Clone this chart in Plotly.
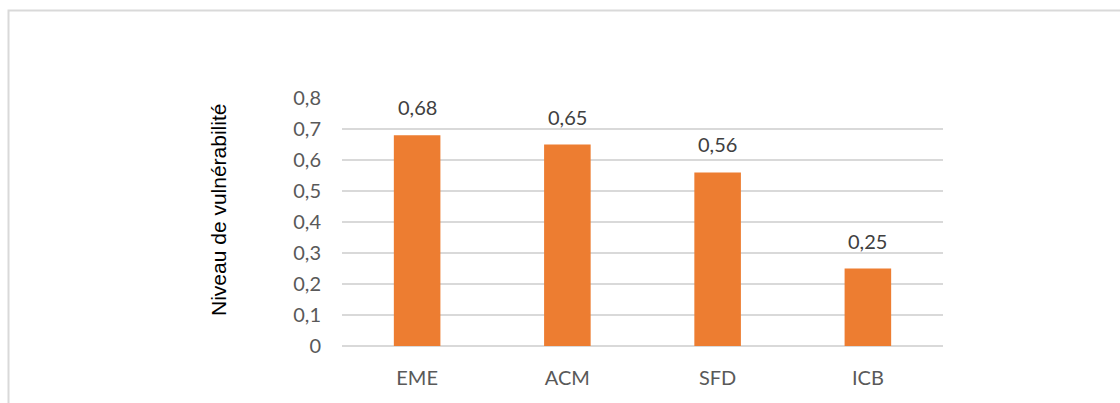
import plotly.graph_objects as go

categories = ["EME", "ACM", "SFD", "ICB"]
values = [0.68, 0.65, 0.56, 0.25]
tick_values = [0, 0.1, 0.2, 0.3, 0.4, 0.5, 0.6, 0.7, 0.8]
tick_labels = ["0", "0,1", "0,2", "0,3", "0,4", "0,5", "0,6", "0,7", "0,8"]

W, H = 1120, 403
L, R, T, B = 342, 177, 98, 57
pw, ph = W - L - R, H - T - B

fig = go.Figure(
    go.Bar(
        x=categories,
        y=values,
        marker=dict(color="#ED7D31", line=dict(width=0)),
        width=0.31,
        hoverinfo="skip",
    )
)

# value labels above bars
for c, v in zip(categories, values):
    fig.add_annotation(
        x=c, y=v, text=f"{v:.2f}".replace(".", ","),
        showarrow=False, yanchor="bottom", yshift=14,
        font=dict(family="Lato, Open Sans, sans-serif", size=20, color="#404040"),
    )

# y-axis title
fig.add_annotation(
    xref="paper", yref="paper",
    x=(218 - L) / pw, y=(H - B - 210) / ph,
    text="Niveau de vulnérabilité", textangle=-90, showarrow=False,
    xanchor="center", yanchor="middle",
    font=dict(family="Liberation Sans, Arial, sans-serif", size=21, color="#000000"),
)

# chart frame
fig.add_shape(
    type="rect", xref="paper", yref="paper",
    x0=(8.5 - L) / pw, x1=(W + 20 - L) / pw,
    y0=(H - B - (H + 20)) / ph, y1=(H - B - 10.5) / ph,
    line=dict(color="#D9D9D9", width=2), fillcolor="rgba(0,0,0,0)", layer="below",
)

fig.update_layout(
    width=W, height=H,
    margin=dict(l=L, r=R, t=T, b=B),
    plot_bgcolor="white", paper_bgcolor="white",
    showlegend=False,
    separators=", ",
    xaxis=dict(
        showgrid=False, showline=False, zeroline=False,
        ticks="", ticklabelstandoff=18,
        tickfont=dict(family="Lato, Open Sans, sans-serif", size=20, color="#595959"),
    ),
    yaxis=dict(
        range=[0, 0.8], tickvals=tick_values, ticktext=tick_labels,
        showgrid=True, gridcolor="#D9D9D9", gridwidth=1.5,
        zeroline=True, zerolinecolor="#D9D9D9", zerolinewidth=1.5,
        showline=False, ticks="", ticklabelstandoff=20,
        tickfont=dict(family="Lato, Open Sans, sans-serif", size=20, color="#595959"),
    ),
)

fig.write_html("out.html")
